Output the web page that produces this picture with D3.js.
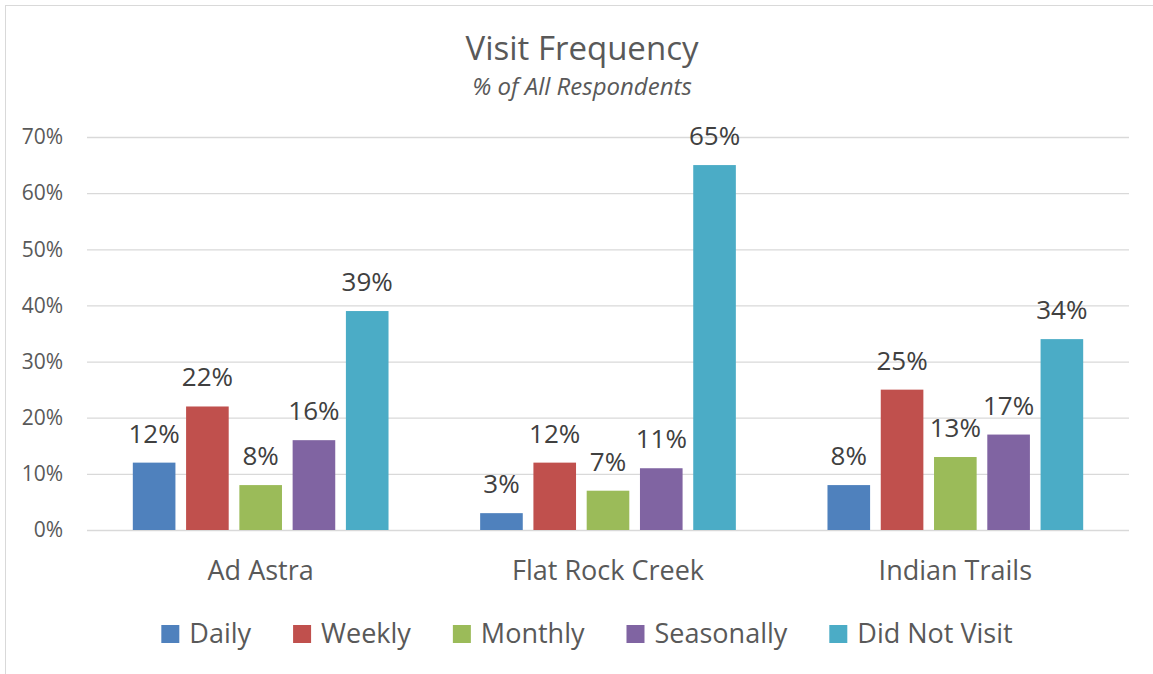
<!DOCTYPE html>
<html>
<head>
<meta charset="utf-8">
<script src="https://cdn.jsdelivr.net/npm/d3@7"></script>
<style>
	body { margin: 0; background: #fff; }
	svg { display: block; font-family: "Open Sans", sans-serif; }
</style>
</head>
<body>
<div id="chart"></div>
<script>
// data
var parks = ["Ad Astra", "Flat Rock Creek", "Indian Trails"];
var frequencies = ["Daily", "Weekly", "Monthly", "Seasonally", "Did Not Visit"];
var daily = [12, 3, 8];
var weekly = [22, 12, 25];
var monthly = [8, 7, 13];
var seasonally = [16, 11, 17];
var didNotVisit = [39, 65, 34];
var yTicks = [0, 10, 20, 30, 40, 50, 60, 70];
var colors = ["#4F81BD", "#C0504D", "#9BBB59", "#8064A2", "#4BACC6"];

var seriesValues = [daily, weekly, monthly, seasonally, didNotVisit];

var width = 1153, height = 674;
var plotLeft = 87, plotRight = 1129, plotTop = 137, plotBottom = 530;

var svg = d3.select("#chart").append("svg")
	.attr("width", width)
	.attr("height", height);

// chart frame
svg.append("rect")
	.attr("x", 5.5).attr("y", 5.5)
	.attr("width", width + 10).attr("height", height + 10)
	.attr("fill", "none")
	.attr("stroke", "#d9d9d9");

var y = d3.scaleLinear().domain([0, 70]).range([plotBottom, plotTop]);
var x0 = d3.scaleBand().domain(parks).range([plotLeft, plotRight]);
var x1 = d3.scaleBand().domain(frequencies)
	.range([0, x0.bandwidth()])
	.paddingInner(0.2)
	.paddingOuter(0.86);
var color = d3.scaleOrdinal().domain(frequencies).range(colors);

// gridlines + y labels
var yAxis = svg.append("g")
	.attr("transform", "translate(" + plotLeft + ",0)")
	.call(d3.axisLeft(y)
		.tickValues(yTicks)
		.tickSize(-(plotRight - plotLeft))
		.tickPadding(24)
		.tickFormat(function(d) { return d + "%"; }));
yAxis.select(".domain").remove();
yAxis.selectAll(".tick line").attr("stroke", "#d9d9d9").attr("stroke-width", 1.3);
yAxis.selectAll(".tick text")
	.attr("fill", "#595959")
	.style("font-family", "'Open Sans', sans-serif")
	.style("font-size", "21px");

// bars
var rows = parks.map(function(p, i) {
	return frequencies.map(function(f, j) {
		return {park: p, freq: f, value: seriesValues[j][i]};
	});
});

var group = svg.append("g").selectAll("g")
	.data(rows)
	.enter().append("g")
	.attr("transform", function(d, i) { return "translate(" + x0(parks[i]) + ",0)"; });

group.selectAll("rect")
	.data(function(d) { return d; })
	.enter().append("rect")
	.attr("x", function(d) { return x1(d.freq); })
	.attr("y", function(d) { return y(d.value); })
	.attr("width", x1.bandwidth())
	.attr("height", function(d) { return y(0) - y(d.value); })
	.attr("fill", function(d) { return color(d.freq); });

group.selectAll("text")
	.data(function(d) { return d; })
	.enter().append("text")
	.attr("x", function(d) { return x1(d.freq) + x1.bandwidth() / 2; })
	.attr("y", function(d) { return y(d.value) - 20; })
	.attr("text-anchor", "middle")
	.attr("fill", "#404040")
	.style("font-size", "26px")
	.text(function(d) { return d.value + "%"; });

// category labels
svg.append("g").selectAll("text")
	.data(parks)
	.enter().append("text")
	.attr("x", function(d) { return x0(d) + x0.bandwidth() / 2; })
	.attr("y", 580)
	.attr("text-anchor", "middle")
	.attr("fill", "#595959")
	.style("font-size", "27px")
	.text(function(d) { return d; });

// title
svg.append("text")
	.attr("x", 582).attr("y", 60)
	.attr("text-anchor", "middle")
	.attr("fill", "#595959")
	.style("font-size", "33px")
	.text("Visit Frequency");
svg.append("text")
	.attr("x", 582).attr("y", 95)
	.attr("text-anchor", "middle")
	.attr("fill", "#595959")
	.style("font-size", "24px")
	.style("font-style", "italic")
	.text("% of All Respondents");

// legend
var legend = svg.append("g");
var items = legend.selectAll("g")
	.data(frequencies)
	.enter().append("g");
items.append("rect")
	.attr("width", 18).attr("height", 18)
	.attr("y", -18)
	.attr("fill", function(d) { return color(d); });
items.append("text")
	.attr("x", 28)
	.attr("fill", "#595959")
	.style("font-size", "27px")
	.text(function(d) { return d; });

var pos = 0;
items.each(function() {
	var w = this.querySelector("text").getComputedTextLength();
	d3.select(this).attr("transform", "translate(" + pos + ",0)");
	pos += 28 + w + 42;
});
pos -= 42;
legend.attr("transform", "translate(" + (587 - pos / 2) + ",643)");
</script>
</body>
</html>
